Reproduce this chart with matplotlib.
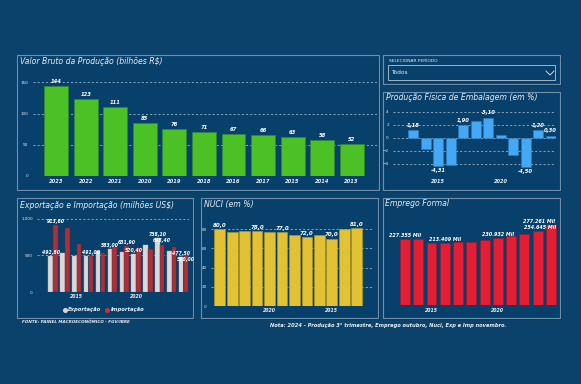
import matplotlib
matplotlib.use('Agg')
import matplotlib.pyplot as plt
from matplotlib.patches import Rectangle
from matplotlib.lines import Line2D
import numpy as np

# data
vbp_years = ['2023', '2022', '2021', '2020', '2019', '2018', '2016', '2017', '2015', '2014', '2013']
vbp_vals = [144, 123, 111, 85, 76, 71, 67, 66, 63, 58, 52]

pf_years = list(range(2013, 2025))
pf_vals = [1.18, -1.7, -4.31, -4.2, 1.90, 2.6, 3.10, 0.4, -2.7, -4.50, 1.20, 0.30]
pf_labeled = [0, 2, 4, 6, 9, 10, 11]

ei_years = list(range(2013, 2025))
exp_vals = [492.80, 532, 488, 493, 555, 583.00, 552, 520.40, 640, 738.10, 555, 477.50]
imp_vals = [913.60, 870, 650, 491.00, 533, 615, 631.90, 600, 595, 648.40, 615, 500.00]
exp_labeled = [0, 5, 7, 9, 11]
imp_labeled = [0, 3, 6, 9, 11]

nuci_years = list(range(2024, 2012, -1))
nuci_vals = [80.0, 77.0, 77.8, 78.0, 77.6, 77.0, 74.0, 72.0, 73.6, 70.0, 80.0, 81.0]
nuci_labeled = [0, 3, 5, 7, 9, 11]

emp_years = list(range(2013, 2025))
emp_vals = [227.355, 227.0, 215.5, 213.409, 218.0, 218.0, 223.0, 230.932, 240.0, 246.0, 254.645, 277.261]
emp_labeled = [0, 3, 7, 10, 11]

W, H = 581, 384
BG = '#0b426b'
PANEL = '#07406a'
EDGE = '#6f8fab'
GRID = '#9fb3c6'
TXT = '#e8eef4'

fig = plt.figure(figsize=(W / 100, H / 100), dpi=100, facecolor=BG)


def fx(x):
    return x / W


def fy(y):
    return 1 - y / H


def box(x0, y0, x1, y1, fc=PANEL):
    # shadow then panel, both behind the axes
    fig.add_artist(Rectangle((fx(x0 + 2), fy(y1 + 2)), (x1 - x0) / W, (y1 - y0) / H,
                             transform=fig.transFigure, fc='#05304f', ec='none', alpha=0.6, zorder=-2))
    fig.add_artist(Rectangle((fx(x0), fy(y1)), (x1 - x0) / W, (y1 - y0) / H,
                             transform=fig.transFigure, fc=fc, ec=EDGE, lw=0.8, zorder=-1))


def axes(x0, y0, x1, y1):
    ax = fig.add_axes([fx(x0), fy(y1), (x1 - x0) / W, (y1 - y0) / H])
    ax.set_facecolor('none')
    for s in ax.spines.values():
        s.set_visible(False)
    ax.tick_params(length=0, colors=TXT)
    return ax


def title(x, y, s, size=5.6):
    fig.text(fx(x), fy(y), s, color=TXT, fontsize=size, style='italic', va='center', ha='left')


def grid(ax):
    ax.yaxis.grid(True, ls=(0, (2.5, 2.5)), color=GRID, lw=0.6)
    ax.set_axisbelow(True)


def yearfont(ax):
    for t in ax.get_xticklabels():
        t.set_fontweight('bold')
        t.set_style('italic')


lab = dict(color='white', fontsize=3.8, fontweight='bold', style='italic', ha='center')

# ---- Valor Bruto da Producao
box(17, 55, 379, 190)
title(20, 61, 'Valor Bruto da Produção (bilhões R$)')
ax = axes(33, 75, 377, 176)
x = np.arange(len(vbp_vals))
ax.bar(x, vbp_vals, width=0.81, color='#4cc126', edgecolor='#2c8c26', lw=0.5)
for i, v in enumerate(vbp_vals):
    ax.text(i, v + 3, str(v), va='bottom', **lab)
ax.set_xlim(-0.79, 10.86)
ax.set_ylim(0, 161.7)
ax.set_yticks([0, 50, 100, 150])
ax.set_xticks(x, vbp_years)
grid(ax)
ax.tick_params(axis='y', labelsize=3.0, pad=3.5)
ax.tick_params(axis='x', labelsize=3.7, pad=2)
yearfont(ax)

# ---- Selecionar periodo
box(383, 55, 560, 84)
fig.text(fx(389), fy(61), 'SELECIONAR PERÍODO', color=TXT, fontsize=3.2, va='center')
fig.add_artist(Rectangle((fx(388), fy(80)), 167 / W, 15 / H, transform=fig.transFigure,
                         fc='none', ec='#b8c6d4', lw=0.6))
fig.text(fx(391), fy(73), 'Todos', color=TXT, fontsize=4.2, va='center')
fig.add_artist(Line2D([fx(546), fx(550), fx(554)], [fy(71), fy(75), fy(71)],
                      transform=fig.transFigure, color=TXT, lw=0.6))

# ---- Producao Fisica de Embalagem
box(383, 92, 560, 190)
title(386, 98, 'Produção Física de Embalagem (em %)')
ax = axes(393, 103, 556, 172)
x = np.arange(len(pf_vals))
ax.bar(x, pf_vals, width=0.8, color='#45a8f5', edgecolor='#2a7dc0', lw=0.4)
for i in pf_labeled:
    v = pf_vals[i]
    s = ('%.2f' % v).replace('.', ',')
    if v >= 0:
        ax.text(i, v + 0.35, s, va='bottom', **lab)
    else:
        ax.text(i, v - 0.4, s, va='top', **lab)
ax.set_xlim(-1.6, 11.42)
ax.set_ylim(-5.31, 5.37)
ax.set_yticks([-4, -2, 0, 2, 4])
ax.set_xticks([2, 7], ['2015', '2020'])
grid(ax)
ax.tick_params(axis='y', labelsize=3.0, pad=3)
ax.tick_params(axis='x', labelsize=3.6, pad=5)
yearfont(ax)

# ---- Exportacao e Importacao
box(17, 198, 193, 318)
title(20, 205, 'Exportação e Importação (milhões US$)')
ax = axes(37, 212, 189, 292.3)
x = np.arange(len(exp_vals))
ax.bar(x - 0.2, exp_vals, width=0.38, color='#d9d9d9', edgecolor='#b0b0b0', lw=0.3)
ax.bar(x + 0.2, imp_vals, width=0.38, color='#a8313c', edgecolor='#7d2029', lw=0.3)
for i in exp_labeled:
    ax.text(i - 0.2, exp_vals[i] + 15, ('%.2f' % exp_vals[i]).replace('.', ','), va='bottom',
            **dict(lab, fontsize=3.3))
for i in imp_labeled:
    if i == 11:
        ax.text(i + 0.2, imp_vals[i] - 20, ('%.2f' % imp_vals[i]).replace('.', ','), va='top',
                **dict(lab, fontsize=3.3))
    else:
        ax.text(i + 0.2, imp_vals[i] + 15, ('%.2f' % imp_vals[i]).replace('.', ','), va='bottom',
                **dict(lab, fontsize=3.3))
ax.set_xlim(-1.35, 11.46)
ax.set_ylim(0, 1091)
ax.set_yticks([0, 500, 1000], ['0', '500', '1.000'])
ax.set_xticks([2, 7], ['2015', '2020'])
grid(ax)
ax.tick_params(axis='y', labelsize=3.0, pad=3)
ax.tick_params(axis='x', labelsize=3.3, pad=1.5)
yearfont(ax)
handles = [Line2D([], [], ls='none', marker='o', ms=2.6, color='#d9d9d9'),
           Line2D([], [], ls='none', marker='o', ms=2.6, color='#c8303c')]
leg = fig.legend(handles, ['Exportação', 'Importação'], loc='center', bbox_to_anchor=(fx(104), fy(310)),
                 ncol=2, frameon=False, handlelength=0.6, handletextpad=0.3,
                 columnspacing=0.8, prop=dict(size=3.8, style='italic', weight='bold'))
for t in leg.get_texts():
    t.set_color(TXT)
fig.text(fx(22), fy(322), 'FONTE: PAINEL MACROECONÔMICO - FGV/IBRE', color=TXT, fontsize=3.0,
         style='italic', fontweight='bold', va='center')

# ---- NUCI
box(201, 198, 378, 318)
title(204, 205, 'NUCI (em %)')
ax = axes(211, 215, 374, 306)
x = np.arange(len(nuci_vals))
ax.bar(x, nuci_vals, width=0.86, color='#e2c232', edgecolor='#b59a1f', lw=0.4)
for i in nuci_labeled:
    ax.text(i, nuci_vals[i] + 1.5, ('%.1f' % nuci_vals[i]).replace('.', ','), va='bottom',
            **dict(lab, fontsize=4.0))
ax.set_xlim(-0.7, 12.39)
ax.set_ylim(0, 94.9)
ax.set_yticks([0, 20, 40, 60, 80])
ax.set_xticks([4, 9], ['2020', '2015'])
grid(ax)
ax.tick_params(axis='y', labelsize=3.0, pad=3)
ax.tick_params(axis='x', labelsize=3.3, pad=1.5)
yearfont(ax)

# ---- Emprego Formal
box(383, 198, 560, 318)
title(385, 204, 'Emprego Formal')
ax = axes(395, 215, 558, 305)
x = np.arange(len(emp_vals))
ax.bar(x, emp_vals, width=0.75, color='#e41c34', edgecolor='#a8142a', lw=0.4)
for i in emp_labeled:
    s = ('%.3f' % emp_vals[i]) + ' Mil'
    xi = i
    if i == 10:
        xi = i + 0.2
    if i == 11:
        xi = i - 0.9
    ax.text(xi, emp_vals[i] + 4, s, va='bottom', **dict(lab, fontsize=3.5))
ax.set_xlim(-0.75, 11.53)
ax.set_ylim(0, 311)
ax.set_yticks([])
ax.set_xticks([2, 7], ['2015', '2020'])
ax.tick_params(axis='x', labelsize=3.3, pad=2)
yearfont(ax)

fig.text(fx(388), fy(326), 'Nota: 2024 - Produção 3° trimestre, Emprego outubro, Nuci, Exp e Imp novembro.',
         color=TXT, fontsize=3.7, style='italic', fontweight='bold', va='center', ha='center')

fig.savefig('out.png', dpi=100, facecolor=BG)
